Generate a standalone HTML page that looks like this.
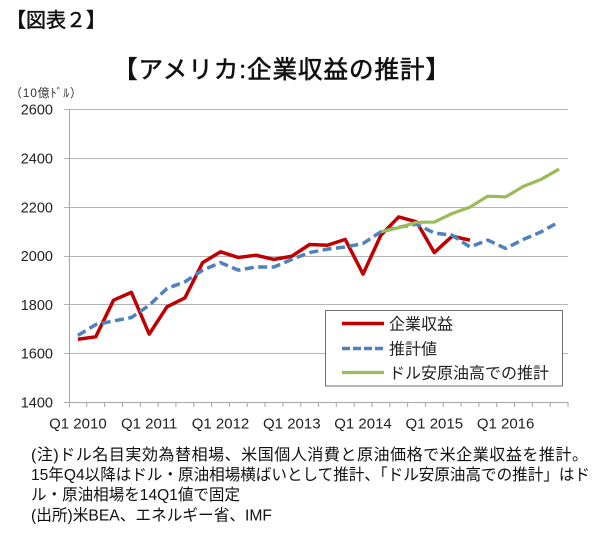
<!DOCTYPE html>
<html><head><meta charset="utf-8"><style>
html,body{margin:0;padding:0;background:#fff;}
svg{display:block;}
text{font-family:"Liberation Sans","Noto Sans CJK JP",sans-serif;}
.cjk{font-family:"Liberation Sans","Noto Sans CJK JP",sans-serif;}
</style></head><body>
<svg width="600" height="534" viewBox="0 0 600 534" xmlns="http://www.w3.org/2000/svg">
<rect width="600" height="534" fill="#fff"/>
<!-- titles -->
<text x="6" y="27" font-size="20" fill="#111" stroke="#111" stroke-width="0.5" class="cjk">【図表２】</text>
<text x="113" y="78" font-size="24.5" fill="#111" stroke="#111" stroke-width="0.6" class="cjk" textLength="337" lengthAdjust="spacing">【アメリカ:企業収益の推計】</text>
<text x="10" y="97" font-size="12" fill="#333" class="cjk" textLength="72" lengthAdjust="spacing">（10億ﾄﾞﾙ）</text>
<!-- gridlines -->
<g stroke="#b4b4b4" stroke-width="1" fill="none">
<path d="M64 109.5H568M64 158.5H568M64 207.5H568M64 256.5H568M64 304.5H568M64 353.5H568"/>
</g>
<!-- axes -->
<g stroke="#a6a6a6" stroke-width="1" fill="none">
<path d="M69.5 109V402.5M64 402.5H568.5"/>
<path d="M69.5 402v5M86.8 402v5M104.6 402v5M122.5 402v5M140.3 402v5M158.1 402v5M175.9 402v5M193.8 402v5M211.6 402v5M229.4 402v5M247.2 402v5M265 402v5M282.9 402v5M300.7 402v5M318.5 402v5M336.3 402v5M354.1 402v5M372 402v5M389.8 402v5M407.6 402v5M425.4 402v5M443.2 402v5M461.1 402v5M478.9 402v5M496.7 402v5M514.5 402v5M532.3 402v5M550.2 402v5M568 402v5"/>
</g>
<!-- y labels -->
<g font-size="14.5" fill="#222" text-anchor="end">
<text x="53" y="114.5">2600</text>
<text x="53" y="163.5">2400</text>
<text x="53" y="212.5">2200</text>
<text x="53" y="261">2000</text>
<text x="53" y="310">1800</text>
<text x="53" y="358.5">1600</text>
<text x="53" y="407.5">1400</text>
</g>
<!-- x labels -->
<g font-size="15" fill="#222" text-anchor="middle">
<text x="77.9" y="428.5">Q1 2010</text>
<text x="149.2" y="428.5">Q1 2011</text>
<text x="220.5" y="428.5">Q1 2012</text>
<text x="291.8" y="428.5">Q1 2013</text>
<text x="363" y="428.5">Q1 2014</text>
<text x="434.3" y="428.5">Q1 2015</text>
<text x="505.6" y="428.5">Q1 2016</text>
</g>
<!-- series -->
<polyline fill="none" stroke="#C00000" stroke-width="3.5" stroke-linejoin="round" points="77.91,339.25 95.73,336.81 113.55,300.18 131.37,292.37 149.19,334.12 167.01,306.77 184.84,297.99 202.66,262.58 220.48,251.84 238.30,257.45 256.12,255.26 273.94,259.41 291.76,256.23 309.58,244.51 327.40,245.24 345.22,239.39 363.04,274.06 380.87,235.23 398.69,216.92 416.51,221.81 434.33,252.57 452.15,236.21 469.97,240.12"/>
<polyline fill="none" stroke="#4F81BD" stroke-width="3.5" stroke-dasharray="9 4.5" stroke-linejoin="round" points="77.91,335.34 95.73,324.60 113.55,320.94 131.37,317.52 149.19,305.31 167.01,288.46 184.84,281.87 202.66,270.15 220.48,262.58 238.30,270.15 256.12,266.98 273.94,266.98 291.76,259.41 309.58,252.57 327.40,249.15 345.22,246.95 363.04,243.54 380.87,231.82 398.69,227.18 416.51,224.25 434.33,233.04 452.15,235.23 469.97,246.95 487.79,240.12 505.61,248.42 523.43,239.39 541.25,231.82 559.07,221.81"/>
<polyline fill="none" stroke="#9BBB59" stroke-width="3.2" stroke-linejoin="round" points="380.87,231.82 398.69,227.67 416.51,222.29 434.33,222.05 452.15,213.50 469.97,207.15 487.79,196.17 505.61,196.90 523.43,186.40 541.25,179.32 559.07,169.07"/>
<!-- legend -->
<rect x="325.5" y="310.5" width="237" height="75.5" fill="#fff" stroke="#6e6e6e" stroke-width="1"/>
<line x1="342" y1="323.5" x2="384" y2="323.5" stroke="#C00000" stroke-width="3.5"/>
<line x1="342" y1="348.5" x2="384" y2="348.5" stroke="#4F81BD" stroke-width="3.5" stroke-dasharray="8 3"/>
<line x1="342" y1="372.5" x2="384" y2="372.5" stroke="#9BBB59" stroke-width="3.2"/>
<g font-size="16" fill="#222" class="cjk">
<text x="389" y="329.5">企業収益</text>
<text x="389" y="354.5">推計値</text>
<text x="389" y="378.5">ドル安原油高での推計</text>
</g>
<!-- notes -->
<g font-size="16" fill="#111" class="cjk">
<text x="31" y="460" textLength="557" lengthAdjust="spacing">(注)ドル名目実効為替相場、米国個人消費と原油価格で米企業収益を推計。</text>
<text x="31" y="480" textLength="559" lengthAdjust="spacingAndGlyphs">15年Q4以降はドル・原油相場横ばいとして推計、「ドル安原油高での推計」はド</text>
<text x="31" y="500" textLength="209" lengthAdjust="spacingAndGlyphs">ル・原油相場を14Q1値で固定</text>
<text x="31" y="520.5" textLength="241" lengthAdjust="spacingAndGlyphs">(出所)米BEA、エネルギー省、IMF</text>
</g>
</svg>
</body></html>
